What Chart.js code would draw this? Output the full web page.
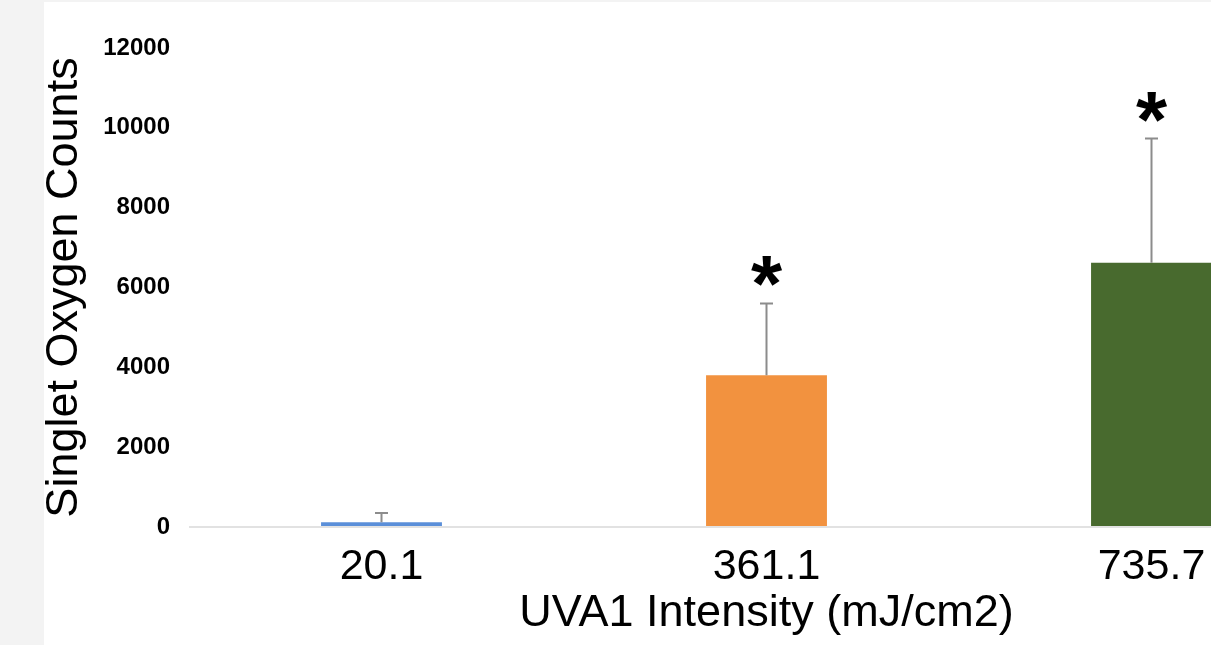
<!DOCTYPE html>
<html>
<head>
<meta charset="utf-8">
<script src="https://cdn.jsdelivr.net/npm/chart.js@4.4.1/dist/chart.umd.min.js"></script>
<style>
    html, body { margin: 0; padding: 0; background: #f3f3f3; overflow: hidden; }
    #wrap { position: absolute; left: 44px; top: 2px; width: 1360px; height: 643px; background: #fff; }
</style>
</head>
<body>
<div id="wrap"><canvas id="chart"></canvas></div>
<script>
'use strict';
// values
const doses = ['20.1', '361.1', '735.7'];
const counts = [120, 3800, 6620];
const errors = [230, 1800, 3110];
const marks = ['', '*', '*'];
const barColors = ['#5b8fd9', '#f2923f', '#486a2e'];
const yMax = 12000;
const yStep = 2000;

const fontFamily = '"Liberation Sans", Arial, Helvetica, sans-serif';

// plus-only error bars and significance stars on top of the bars
const errorBarPlugin = {
    id: 'errorBars',
    afterDatasetsDraw: function (chart) {
        const ctx = chart.ctx;
        const yScale = chart.scales.y;
        const meta = chart.getDatasetMeta(0);
        ctx.save();
        meta.data.forEach(function (bar, i) {
            const x = bar.x;
            const yTop = yScale.getPixelForValue(counts[i] + errors[i]);
            const yBar = yScale.getPixelForValue(counts[i]);
            ctx.strokeStyle = '#8c8c8c';
            ctx.lineWidth = 2;
            ctx.beginPath();
            ctx.moveTo(x, yBar);
            ctx.lineTo(x, yTop);
            ctx.moveTo(x - 6.5, yTop);
            ctx.lineTo(x + 6.5, yTop);
            ctx.stroke();

            if (marks[i]) {
                ctx.font = 'bold 80px ' + fontFamily;
                ctx.fillStyle = '#000';
                ctx.textAlign = 'center';
                ctx.textBaseline = 'alphabetic';
                const m = ctx.measureText(marks[i]);
                const inkMid = (m.actualBoundingBoxAscent - m.actualBoundingBoxDescent) / 2;
                ctx.fillText(marks[i], x, yTop - 32 + inkMid);
            }
        });
        ctx.restore();
    },
};

const ctx = document.getElementById('chart').getContext('2d');
const myChart = new Chart(ctx, {
    type: 'bar',
    data: {
        labels: doses,
        datasets: [
            {
                data: counts,
                backgroundColor: barColors,
                borderWidth: 0,
                categoryPercentage: 1,
                barPercentage: 0.314,
            }],
    },
    options: {
        responsive: true,
        maintainAspectRatio: false,
        animation: false,
        layout: {
            padding: { top: 46, right: 60, bottom: 0, left: 0 },
        },
        plugins: {
            legend: { display: false },
            tooltip: { enabled: false },
        },
        scales: {
            x: {
                border: { display: false },
                grid: { display: false },
                ticks: {
                    color: '#000',
                    padding: 8,
                    maxRotation: 0,
                    font: { family: fontFamily, size: 43, lineHeight: 1.1 },
                },
                title: {
                    display: true,
                    text: 'UVA1 Intensity (mJ/cm2)',
                    color: '#000',
                    font: { family: fontFamily, size: 45, lineHeight: 1 },
                    padding: { top: 0, bottom: 9 },
                },
                afterFit: function (scale) {
                    scale.height = 118;
                },
            },
            y: {
                min: 0,
                max: yMax,
                border: { display: false },
                grid: {
                    drawTicks: false,
                    lineWidth: 2,
                    color: function (context) {
                        return context.tick && context.tick.value === 0 ? '#e2e2e2' : 'rgba(0,0,0,0)';
                    },
                },
                ticks: {
                    stepSize: yStep,
                    color: '#000',
                    padding: 19,
                    font: { family: fontFamily, size: 24, weight: 'bold' },
                    callback: function (value) {
                        return String(value);
                    },
                },
                title: {
                    display: true,
                    text: 'Singlet Oxygen Counts',
                    color: '#000',
                    font: { family: fontFamily, size: 45, lineHeight: 0.9 },
                    padding: { top: 0, bottom: 0 },
                },
                afterFit: function (scale) {
                    scale.width = 145;
                },
            },
        },
    },
    plugins: [errorBarPlugin],
});
</script>
</body>
</html>
